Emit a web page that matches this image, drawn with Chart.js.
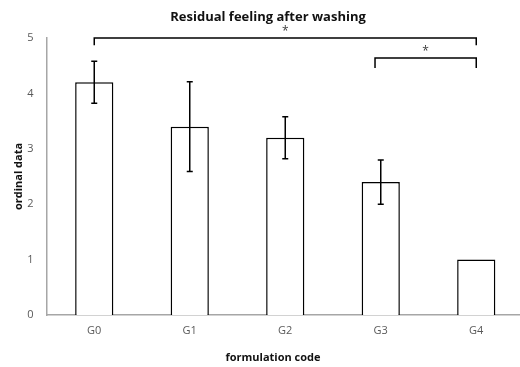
<!DOCTYPE html>
<html>
<head>
<meta charset="utf-8">
<script src="https://cdn.jsdelivr.net/npm/chart.js@4/dist/chart.umd.min.js"></script>
<style>
  html, body { margin: 0; padding: 0; background: #fff; overflow: hidden; }
  canvas { display: block; }
</style>
</head>
<body>
<canvas id="grafico" width="530" height="367"></canvas>
<script>
// ================= DATA =================
const categorias = ["G0", "G1", "G2", "G3", "G4"];
const valores = [4.2, 3.4, 3.2, 2.4, 1.0];
const errores = [0.38, 0.81, 0.38, 0.4, 0];
const ticksY = [0, 1, 2, 3, 4, 5];

// significance brackets (category index from/to, level, tip end)
const llaveDesde = [0, 2.94];
const llaveHasta = [4, 4];
const llaveNivel = [5.0, 4.64];
const llavePunta = [4.87, 4.46];
const llaveTexto = ["*", "*"];

const tituloX = "formulation code";

// ================= PLUGIN =================
const extras = {
    id: "extras",
    afterDatasetsDraw(chart) {
        const { ctx, scales: { x, y } } = chart;
        ctx.save();
        ctx.strokeStyle = "#000";
        ctx.lineWidth = 1.5;
        errores.forEach((e, i) => {
            if (!e) return;
            const px = x.getPixelForValue(i);
            const top = y.getPixelForValue(valores[i] + e);
            const bot = y.getPixelForValue(valores[i] - e);
            ctx.beginPath();
            ctx.moveTo(px, top); ctx.lineTo(px, bot);
            ctx.moveTo(px - 3, top); ctx.lineTo(px + 3, top);
            ctx.moveTo(px - 3, bot); ctx.lineTo(px + 3, bot);
            ctx.stroke();
        });
        ctx.restore();
    },
    afterDraw(chart) {
        const { ctx, scales: { x, y }, chartArea } = chart;
        ctx.save();
        ctx.strokeStyle = "#000";
        ctx.lineWidth = 1.5;
        llaveDesde.forEach((d, i) => {
            const x0 = x.getPixelForValue(d);
            const x1 = x.getPixelForValue(llaveHasta[i]);
            const yl = y.getPixelForValue(llaveNivel[i]);
            const yp = y.getPixelForValue(llavePunta[i]);
            ctx.beginPath();
            ctx.moveTo(x0, yp); ctx.lineTo(x0, yl);
            ctx.lineTo(x1, yl); ctx.lineTo(x1, yp);
            ctx.stroke();
            ctx.fillStyle = "#404040";
            ctx.font = "12px 'Open Sans'";
            ctx.textAlign = "center";
            ctx.textBaseline = "middle";
            ctx.fillText(llaveTexto[i], (x0 + x1) / 2, yl - 6);
        });

        // x title
        ctx.fillStyle = "#111";
        ctx.font = "bold 11px 'Open Sans'";
        ctx.textAlign = "center";
        ctx.textBaseline = "middle";
        ctx.fillText(tituloX, 273, 358);
        ctx.restore();
    }
};

// ================= CHART =================
new Chart(document.getElementById("grafico"), {
    type: "bar",
    data: {
        labels: categorias,
        datasets: [{
            data: valores,
            backgroundColor: "#fff",
            borderColor: "#000",
            borderWidth: 1.5,
            barPercentage: 0.4,
            categoryPercentage: 1.0
        }]
    },
    options: {
        responsive: false,
        animation: false,
        layout: { padding: { left: 12, right: 6, top: 0, bottom: 0 } },
        plugins: {
            legend: { display: false },
            tooltip: { enabled: false },
            title: {
                display: true,
                text: "Residual feeling after washing",
                color: "#111",
                font: { family: "'Open Sans'", size: 13, weight: "bold" },
                padding: { top: 9, bottom: 13.4 }
            }
        },
        scales: {
            x: {
                grid: { display: false, drawTicks: false },
                border: { display: true, color: "#a6a6a6", width: 1.5 },
                ticks: {
                    color: "#595959",
                    font: { family: "'Open Sans'", size: 11 },
                    padding: 9
                },
                afterFit: s => { s.height = 52; }
            },
            y: {
                min: 0,
                max: 5,
                afterBuildTicks: s => { s.ticks = ticksY.map(v => ({ value: v })); },
                grid: { display: false, drawTicks: false },
                border: { display: true, color: "#a6a6a6", width: 1.5 },
                ticks: {
                    color: "#595959",
                    font: { family: "'Open Sans'", size: 11 },
                    padding: 13
                },
                title: {
                    display: true,
                    text: "ordinal data",
                    color: "#111",
                    font: { family: "'Open Sans'", size: 11, weight: "bold" },
                    padding: 0
                },
                afterFit: s => { s.width = 34.5; }
            }
        }
    },
    plugins: [extras]
});
</script>
</body>
</html>
